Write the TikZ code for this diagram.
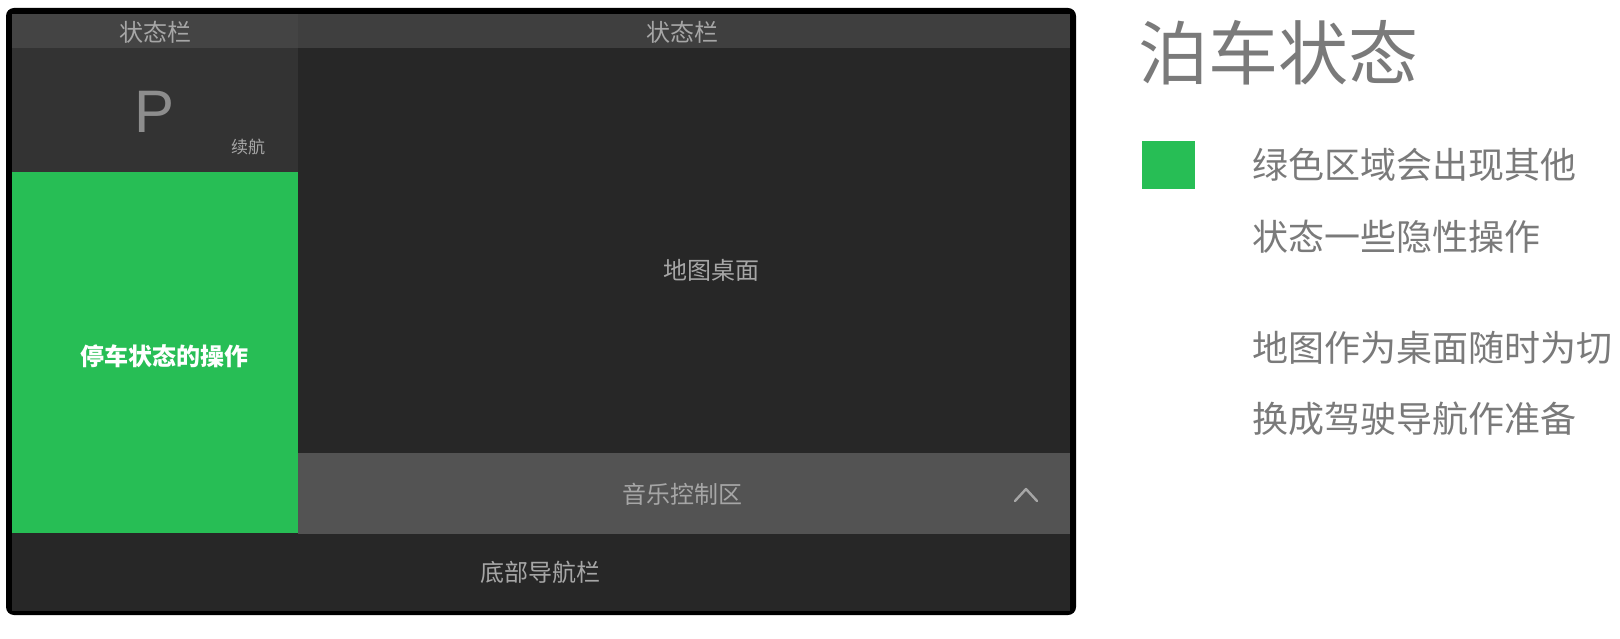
\documentclass[tikz,border=0pt]{standalone}
\usepackage{fontspec}
\setmainfont{Liberation Sans}
\newfontfamily\cjk{Noto Sans CJK SC}
\definecolor{gbar}{HTML}{444444}
\definecolor{gbarr}{HTML}{3F3F3F}
\definecolor{gpark}{HTML}{333333}
\definecolor{gmap}{HTML}{272727}
\definecolor{gmusic}{HTML}{535353}
\definecolor{pgreen}{HTML}{27BE55}
\definecolor{labelgray}{HTML}{A6A6A6}
\definecolor{notegray}{HTML}{7A7A7A}
\begin{document}
\begin{tikzpicture}[x=1pt,y=-1pt,
  lbl/.style={font=\cjk\fontsize{24}{24}\selectfont, text=labelgray, inner sep=0pt},
  note/.style={font=\cjk\fontsize{36}{36}\selectfont, text=notegray, anchor=west, inner sep=0pt},
  chev/.style={draw=labelgray, line width=2.4pt, line cap=round, line join=round}]
\useasboundingbox (0,0) rectangle (1620,639);
% frame
\fill[black, rounded corners=8pt] (6,8) rectangle (1076,615);
\fill[gmap] (12,14) rectangle (1070,611);
% regions
\fill[gbar] (12,14) rectangle (298,48.5);
\fill[gbarr] (298,14) rectangle (1070,48.5);
\fill[gpark] (12,48.5) rectangle (298,172.5);
\fill[pgreen] (12,172.5) rectangle (298,533);
\fill[gmap] (298,48.5) rectangle (1070,452.5);
\fill[gmusic] (298,452.5) rectangle (1070,534);
% labels
\node[lbl] (sbl) at (155,32) {状态栏};
\node[lbl] (sbr) at (682,32) {状态栏};
\node[font=\fontsize{60}{60}\selectfont, text=labelgray!85!black, inner sep=0pt] (p) at (155,112) {P};
\node[lbl, font=\cjk\fontsize{17}{17}\selectfont] (range) at (248,147) {续航};
\node[lbl, font=\cjk\bfseries\fontsize{24}{24}\selectfont, text=white] (parkop) at (164,356) {停车状态的操作};
\node[lbl] (map) at (711,270) {地图桌面};
\node[lbl] (music) at (682,494) {音乐控制区};
\node[lbl] (nav) at (540,572) {底部导航栏};
\coordinate (c1) at (1015,501);
\coordinate (c2) at (1026,489);
\coordinate (c3) at (1037,501);
\draw[chev] (c1) -- (c2) -- (c3);
% right side
\node[font=\cjk\fontsize{70}{70}\selectfont, text=notegray, anchor=west, inner sep=0pt] (title) at (1138,53) {泊车状态};
\fill[pgreen] (1142,141.5) rectangle (1195,189);
\node[note] (n1) at (1252,165) {绿色区域会出现其他};
\node[note] (n2) at (1252,237) {状态一些隐性操作};
\node[note] (n3) at (1252,348) {地图作为桌面随时为切};
\node[note] (n4) at (1252,419) {换成驾驶导航作准备};
\end{tikzpicture}
\end{document}
